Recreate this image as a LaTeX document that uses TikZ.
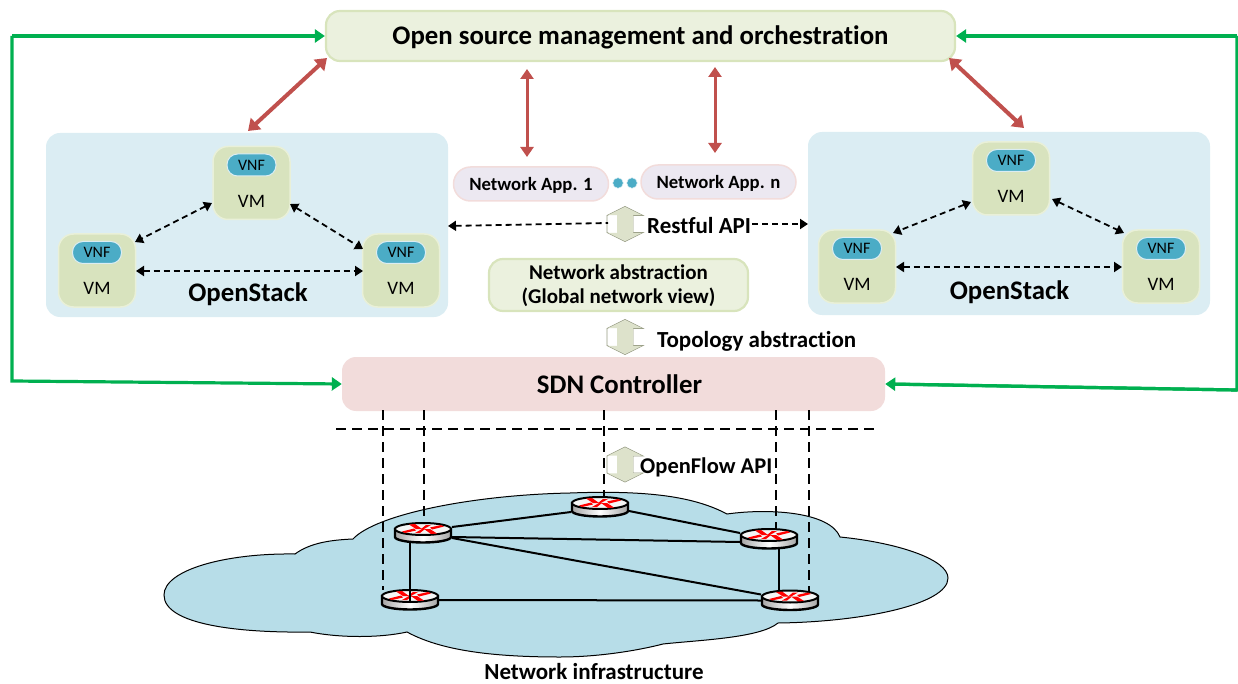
\documentclass[tikz,border=0pt]{standalone}
\usepackage{fontspec}
\setmainfont[Ligatures=NoCommon]{Carlito}
\usetikzlibrary{arrows.meta,calc}
\definecolor{grn}{RGB}{0,176,80}
\definecolor{redb}{RGB}{192,80,77}
\definecolor{panel}{RGB}{219,237,243}
\definecolor{vmf}{RGB}{216,227,190}
\definecolor{vme}{RGB}{233,240,216}
\definecolor{vnff}{RGB}{75,172,198}
\definecolor{topf}{RGB}{235,241,222}
\definecolor{tope}{RGB}{216,228,188}
\definecolor{sdn}{RGB}{242,220,219}
\definecolor{appf}{RGB}{236,232,241}
\definecolor{appe}{RGB}{242,220,219}
\definecolor{cloudf}{RGB}{183,221,232}
\definecolor{arrf}{RGB}{221,226,203}
\definecolor{arre}{RGB}{150,155,130}
\newcommand{\fs}[1]{\fontsize{#1}{#1}\selectfont}
\tikzset{
 x=1pt,y=-1pt,
 panelbox/.style={fill=panel,rounded corners=14pt},
 vmbox/.style={fill=vmf,draw=vme,line width=1.5pt,rounded corners=15pt,minimum width=77pt,minimum height=73pt,inner sep=0pt},
 vnfbox/.style={fill=vnff,draw=panel,line width=1pt,rounded corners=10.5pt,minimum width=49pt,minimum height=22pt,inner sep=0pt,font=\fs{16}},
 vmtxt/.style={font=\fs{19},inner sep=0pt},
 title/.style={font=\bfseries\fs{26.8},inner sep=0pt},
 lab/.style={font=\bfseries\fs{23},inner sep=0pt},
 appbox/.style={fill=appf,draw=appe,line width=1.5pt,rounded corners=17pt,minimum height=34pt,inner sep=0pt},
 apptxt/.style={font=\bfseries\fs{18.7},inner sep=0pt},
 dotn/.style={circle,fill=vnff,draw=panel,line width=.5pt,minimum size=10.5pt,inner sep=0pt},
 dashar/.style={dash pattern=on 6pt off 4pt,line width=1.8pt,{Triangle[length=8pt,width=10pt]}-{Triangle[length=8pt,width=10pt]}},
 dashone/.style={dash pattern=on 6pt off 4pt,line width=1.8pt},
 redar/.style={draw=redb,line width=3pt,{Triangle[length=10pt,width=13pt]}-{Triangle[length=10pt,width=13pt]}},
 redarb/.style={draw=redb,line width=4pt,{Triangle[length=11pt,width=15pt]}-{Triangle[length=11pt,width=15pt]}},
 grar/.style={draw=grn,line width=3.2pt,-{Triangle[length=10pt,width=13pt]}},
 grln/.style={draw=grn,line width=3.2pt},
 vdash/.style={dash pattern=on 10pt off 6pt,line width=2.6pt},
 link/.style={line width=2pt},
}
\newcommand{\vmg}[3]{%
 \node[vmbox] (#1) at (#2,#3) {};
 \node[vnfbox] (#1n) at (#2,#3-18) {VNF};
 \node[vmtxt] (#1t) at (#2,#3+18) {VM};
}
\newcommand{\updownar}[3]{%
 \begin{scope}[shift={(#2,#3)}]
 \path[fill=white,draw=arre,line width=.8pt,line join=miter]
  (0,-17.5) -- (18,-8.5) -- (8,-8.5) -- (8,8.5) -- (18,8.5) -- (0,17.5) -- (-18,8.5) -- (-18,-8.5) -- cycle;
 \fill[arrf] (0,-17) -- (17,-8.8) -- (8,-8.8) -- (8,8.8) -- (17,8.8) -- (0,17) -- (-17,8.8) -- (-8,8.8) -- (-8,-8.8) -- (-17,-8.8) -- cycle;
 \end{scope}
 \coordinate (#1) at (#2,#3);
}
\newcommand{\router}[3]{%
 \begin{scope}[shift={(#2,#3)}]
 \path[draw=black,line width=2.4pt,left color=gray!70,right color=gray!70,middle color=white]
  (-28,-4) -- (-28,4) arc[start angle=180,end angle=360,x radius=28,y radius=-5.5] -- (28,-4) -- cycle;
 \path[draw=black,line width=2pt,fill=white!92!gray] (0,-4) ellipse[x radius=28,y radius=6];
 \fill[red] (-21,-1.5) -- (-9,-4.5) -- (-7,-2.5) -- (-18,0) -- cycle;
 \fill[red] (21,-6.5) -- (9,-3.5) -- (7,-5.5) -- (18,-8) -- cycle;
 \fill[red] (-14,-8.5) -- (-8,-9) -- (-1,-4) -- (-7,-4) -- cycle;
 \fill[red] (14,.5) -- (8,1) -- (1,-4) -- (7,-4) -- cycle;
 \fill[red] (-8,0) -- (-1,-4) -- (2,-4) -- (-3,0) -- cycle;
 \fill[red] (8,-8) -- (1,-4) -- (-2,-4) -- (3,-8) -- cycle;
 \end{scope}
 \coordinate (#1) at (#2,#3);
}
\begin{document}
\begin{tikzpicture}
\useasboundingbox (0,0) rectangle (1238,684);
% panels
\fill[panelbox] (46,133) rectangle (448,317);
\fill[panelbox] (808,132) rectangle (1210,315);
\coordinate (pl) at (448,226);
\coordinate (pr) at (808,224);
% top
\node[fill=topf,draw=tope,line width=2.2pt,rounded corners=14pt,minimum width=629pt,minimum height=50pt,inner sep=0pt] (orch) at (640.5,36) {};
\node[title] (orcht) at (640.5,37.5) {Open source management and orchestration};
% sdn
\node[fill=sdn,rounded corners=14pt,minimum width=543pt,minimum height=54pt,inner sep=0pt] (sdnc) at (613.5,384) {};
\node[title] (sdnt) at (619.5,384.5) {SDN Controller};
% VMs left
\vmg{a}{251.5}{183}
\vmg{b}{97}{270.5}
\vmg{c}{401}{270.5}
\node[title] (os1) at (248,294) {OpenStack};
% VMs right
\vmg{d}{1011}{178.5}
\vmg{e}{857}{266.5}
\vmg{f}{1161}{266.5}
\node[title] (os2) at (1009.5,292) {OpenStack};
% dashed arrows
\draw[dashar] (212,203) -- (135,242);
\draw[dashar] (290,204) -- (363,249);
\draw[dashar] (136,271) -- (363,271);
\draw[dashar] (971,202) -- (893,233);
\draw[dashar] (1052,199) -- (1124,233);
\draw[dashar] (896,267) -- (1122,267);
% apps
\node[appbox,minimum width=155pt] (app1) at (531,184) {};
\node[appbox,minimum width=155pt] (appn) at (718.5,182) {};
\node[apptxt] (app1t) at (531,185) {Network App. 1};
\node[apptxt] (appnt) at (718.5,183) {Network App. n};
\node[dotn] (d1) at (618,183) {};
\node[dotn] (d2) at (632,183) {};
% net abstraction
\node[fill=topf,draw=tope,line width=2.2pt,rounded corners=14pt,minimum width=259pt,minimum height=52pt,inner sep=0pt] (abs) at (618.5,285) {};
\node[inner sep=0pt,font=\bfseries\fs{21}] (abs1) at (618.5,272) {Network abstraction};
\node[inner sep=0pt,font=\bfseries\fs{21}] (abs2) at (618.5,297.5) {(Global network view)};
% up down arrows
\updownar{u1}{625}{224}
\updownar{u2}{625}{337}
% labels
\node[lab,anchor=west] (rest) at (647,226) {Restful API};
\node[lab,anchor=west] (topo) at (657,341) {Topology abstraction};
\node[lab] (inf) at (594,671.5) {Network infrastructure};
% restful dashed
\coordinate (rl) at (608,223);
\coordinate (rr) at (752,224);
\draw[dashone,{Triangle[length=8pt,width=10pt]}-] (pl) -- (rl);
\draw[dashone,-{Triangle[length=8pt,width=10pt]}] (rr) -- (pr);
% red
\draw[redarb] (327,58) -- (248,131);
\draw[redarb] (949,58) -- (1024,128);
\draw[redar] (527,69) -- (527,157);
\draw[redar] (715,67) -- (715,153);
% green
\draw[grln,line join=miter] (1237,36) -- (1237,390) -- (890,384);
\draw[grar] (12,36) -- (orch.west);
\draw[grar] (1237,36) -- (orch.east);
\draw[grar] (12,36) -- (12,381) -- (sdnc.west);
\draw[grar] (1237,390) -- (sdnc.east);
% cloud
\fill[cloudf,draw=black,line width=1pt]
 (295,554) .. controls (310,543) and (330,540) .. (353,539)
 .. controls (375,515) and (470,495) .. (570,493)
 .. controls (650,490) and (695,497) .. (727,514)
 .. controls (770,508) and (830,512) .. (840,537)
 .. controls (900,543) and (948,560) .. (948,578)
 .. controls (948,605) and (860,622) .. (778,623)
 .. controls (760,638) and (700,640) .. (663,644)
 .. controls (640,650) and (600,657) .. (560,657)
 .. controls (490,657) and (440,650) .. (407,632)
 .. controls (380,638) and (340,638) .. (310,632)
 .. controls (240,633) and (164,625) .. (164,595)
 .. controls (164,570) and (225,553) .. (295,554) -- cycle;
% dashed controller lines
\draw[vdash] (336,429) -- (876,429);
\draw[vdash] (383,410) -- (383,590);
\draw[vdash] (424,410) -- (424,525);
\draw[vdash] (604,410) -- (604,497);
\draw[vdash] (776,410) -- (776,530);
\draw[vdash] (809,410) -- (809,592);
\updownar{u3}{625}{464.5}
\node[lab,anchor=west,font=\bfseries\fs{22.5}] (of) at (640,467) {OpenFlow API};
% routers
\router{r1}{423}{533}
\router{r2}{600}{507}
\router{r3}{769}{539}
\router{r4}{410}{600}
\router{r5}{790}{600.5}
\draw[link] ($(r1)+(29,-6)$) -- ($(r2)+(-29,5)$);
\draw[link] ($(r2)+(29,4)$) -- ($(r3)+(-29,-6)$);
\draw[link] ($(r1)+(29,4)$) -- ($(r3)+(-29,3)$);
\draw[link] ($(r1)+(29,5)$) -- ($(r5)+(-29,-6)$);
\draw[link] ($(r1)+(-13,10)$) -- ($(r4)+(0,2)$);
\draw[link] ($(r3)+(10,10)$) -- ($(r5)+(-11,-10)$);
\draw[link] ($(r4)+(29,0)$) -- ($(r5)+(-29,0)$);
\end{tikzpicture}
\end{document}
